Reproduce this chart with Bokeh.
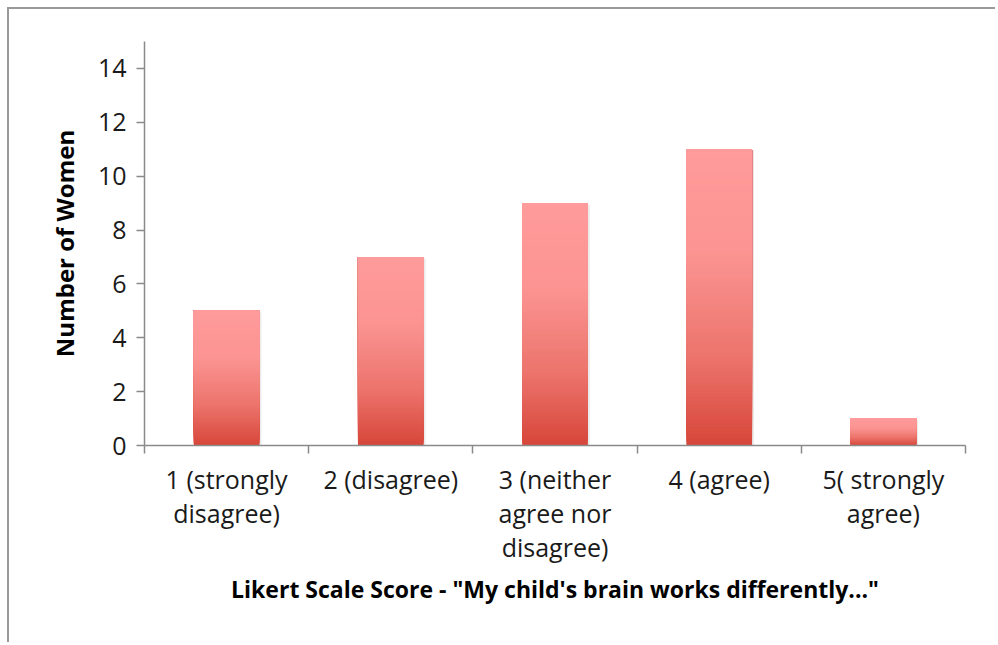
from bokeh.plotting import figure
from bokeh.models import Range1d, FixedTicker, ColumnDataSource
from bokeh.embed import file_html
from bokeh.resources import INLINE

# ---- data ----
categories = ["1 (strongly\ndisagree)", "2 (disagree)", "3 (neither\nagree nor\ndisagree)",
              "4 (agree)", "5( strongly\nagree)"]
counts = [5, 7, 9, 11, 1]
y_ticks = [0, 2, 4, 6, 8, 10, 12, 14]
x_title = "Likert Scale Score - \"My child's brain works differently...\""
y_title = "Number of Women"

FONT = "Open Sans"
AXIS_COLOR = "#8a8a8a"
BAR_W = 0.4

# gradient stops (t=0 top, t=1 bottom)
stops = [(0.0, (255, 155, 155)), (0.35, (251, 148, 146)), (0.7, (236, 116, 108)), (1.0, (215, 70, 58))]


def grad_color(t):
    for (t0, c0), (t1, c1) in zip(stops[:-1], stops[1:]):
        if t <= t1:
            f = (t - t0) / (t1 - t0)
            return "#%02x%02x%02x" % tuple(int(round(a + (b - a) * f)) for a, b in zip(c0, c1))
    return "#%02x%02x%02x" % stops[-1][1]


N = 80
xs, bots, tops, cols = [], [], [], []
for i, v in enumerate(counts):
    xpos = i + 1
    for k in range(N):
        xs.append(xpos)
        bots.append(v * k / N)
        tops.append(v)          # each slice reaches the top; later slices cover the upper part
        cols.append(grad_color(1 - (k + 0.5) / N))
src = ColumnDataSource(dict(x=xs, bottom=bots, top=tops, color=cols))

p = figure(width=988, height=635, output_backend="svg", toolbar_location=None,
           x_range=Range1d(0.5, 5.5), y_range=Range1d(0, 15),
           min_border_left=135, min_border_top=32, min_border_right=32, min_border_bottom=199,
           styles={"border-top": "2px solid #999999", "border-left": "2px solid #999999",
                   "margin-left": "7px", "margin-top": "7px"})
p.outline_line_color = None
p.xgrid.visible = False
p.ygrid.visible = False

# soft shadow
shadow = ColumnDataSource(dict(x=[i + 1 + 0.012 for i in range(len(counts))],
                               top=[v - 0.05 for v in counts]))
p.vbar(x="x", top="top", bottom=0, width=BAR_W, source=shadow, fill_color="#000000",
       fill_alpha=0.08, line_color=None)
p.vbar(x="x", top="top", bottom="bottom", width=BAR_W, source=src, fill_color="color",
       line_color=None)

xa = p.xaxis[0]
xa.ticker = FixedTicker(ticks=[1, 2, 3, 4, 5], minor_ticks=[0.5, 1.5, 2.5, 3.5, 4.5, 5.5])
xa.major_label_overrides = {i + 1: c for i, c in enumerate(categories)}
xa.major_tick_out = 0
xa.major_tick_in = 0
xa.minor_tick_out = 8
xa.minor_tick_in = 0
xa.minor_tick_line_color = AXIS_COLOR
xa.minor_tick_line_width = 1.5
xa.axis_line_color = AXIS_COLOR
xa.axis_line_width = 1.5
xa.major_label_text_font = FONT
xa.major_label_text_font_size = "25px"
xa.major_label_text_color = "#1a1a1a"
xa.major_label_text_line_height = 1.0
xa.major_label_standoff = 8
xa.axis_label = x_title
xa.axis_label_text_font = FONT
xa.axis_label_text_font_size = "23px"
xa.axis_label_text_font_style = "bold"
xa.axis_label_text_color = "#000000"
xa.axis_label_standoff = 6

ya = p.yaxis[0]
ya.ticker = FixedTicker(ticks=y_ticks, minor_ticks=[])
ya.major_tick_out = 8
ya.major_tick_in = 0
ya.major_tick_line_color = AXIS_COLOR
ya.major_tick_line_width = 1.5
ya.axis_line_color = AXIS_COLOR
ya.axis_line_width = 1.5
ya.major_label_text_font = FONT
ya.major_label_text_font_size = "25px"
ya.major_label_text_color = "#1a1a1a"
ya.major_label_standoff = 10
ya.axis_label = y_title
ya.axis_label_text_font = FONT
ya.axis_label_text_font_size = "24px"
ya.axis_label_text_font_style = "bold"
ya.axis_label_text_color = "#000000"
ya.axis_label_standoff = 14

open("out.html", "w").write(file_html(p, INLINE))
